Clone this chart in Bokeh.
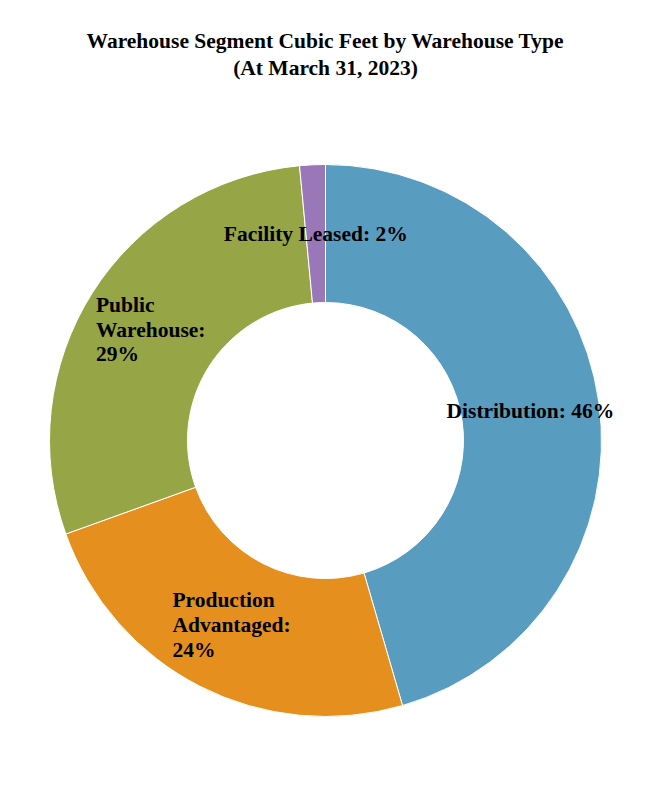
import numpy as np
from bokeh.core.properties import value
from bokeh.models import ColumnDataSource, Range1d
from bokeh.plotting import figure
from bokeh.embed import file_html
from bokeh.resources import INLINE

# data (clockwise from 12 o'clock)
categories = ["Distribution", "Production\nAdvantaged", "Public\nWarehouse", "Facility Leased"]
shares = [45.5, 24.0, 29.0, 1.5]
pct_labels = ["46%", "24%", "29%", "2%"]
colors = ["#589cc0", "#e5901e", "#96a545", "#9977b8"]

title_lines = ["Warehouse Segment Cubic Feet by Warehouse Type", "(At March 31, 2023)"]

W, H = 634, 784
cx, cy = 325, 440  # pixel position of the donut centre
R_OUT, R_IN = 276, 138
FONT = value("Liberation Serif")

frac = np.array(shares) / sum(shares)
cum_end = np.cumsum(frac)
cum_start = cum_end - frac
start = np.pi / 2 - 2 * np.pi * cum_start
end = np.pi / 2 - 2 * np.pi * cum_end
mid = (start + end) / 2
r_mid = (R_OUT + R_IN) / 2

labels = []
for c, pct in zip(categories, pct_labels):
    sep = ":\n" if "\n" in c else ": "
    labels.append(c + sep + pct)

source = ColumnDataSource(data=dict(
    start=start, end=end, color=colors,
    lx=r_mid * np.cos(mid), ly=r_mid * np.sin(mid),
    label=labels,
))

p = figure(width=W, height=H, x_range=Range1d(-cx, W - cx),
           y_range=Range1d(-(H - cy), cy), tools="", toolbar_location=None,
           output_backend="svg", min_border=0, outline_line_color=None)
p.axis.visible = False
p.grid.visible = False

p.annular_wedge(x=0, y=0, inner_radius=R_IN, outer_radius=R_OUT,
                start_angle="start", end_angle="end", direction="clock",
                fill_color="color", line_color="white", line_width=1,
                source=source)

p.text(x="lx", y="ly", text="label", source=source, text_font=FONT,
       text_font_size="21.5px", text_font_style="bold", text_color="black",
       anchor="center", text_align="left", text_line_height=1.03)

# title
p.text(x=[0, 0], y=[cy - 40, cy - 67], text=title_lines, text_font=FONT,
       text_font_size="21.5px", text_font_style="bold", text_color="black",
       text_align="center", text_baseline="middle")

open("out.html", "w").write(file_html(p, INLINE))
